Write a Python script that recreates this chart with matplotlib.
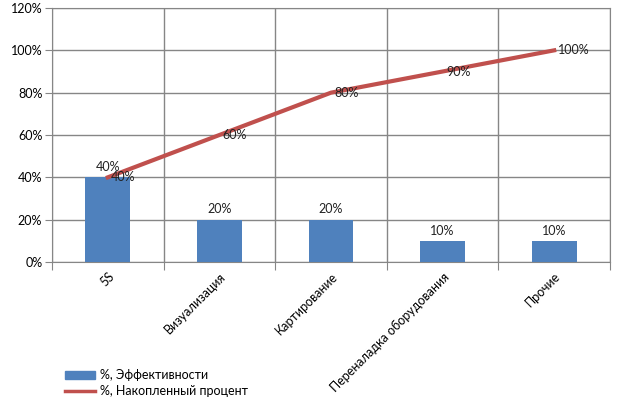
import matplotlib
matplotlib.use("Agg")
from matplotlib import pyplot as plt
from matplotlib.ticker import FuncFormatter, MultipleLocator
from matplotlib.patches import Patch
from matplotlib.lines import Line2D

categories = ["5S", "Визуализация", "Картирование", "Переналадка оборудования", "Прочие"]
efficiency = [40, 20, 20, 10, 10]
cumulative = [40, 60, 80, 90, 100]

plt.rcParams['font.family'] = ['Lato', 'DejaVu Sans']
grid_c = '#868686'
bar_c = '#4F81BD'
line_c = '#C0504D'
fs = 9


def main():
    fig = plt.figure(figsize=(6.21, 4.05), dpi=100)
    ax = fig.add_axes([52 / 621, 1 - 262 / 405, 558 / 621, 254 / 405])

    x = list(range(len(categories)))
    ax.bar(x, efficiency, width=0.4, color=bar_c, zorder=3)
    ax.plot(x, cumulative, color=line_c, linewidth=3, zorder=4)

    for i, v in enumerate(efficiency):
        ax.text(i, v + 2, "%d%%" % v, ha='center', va='bottom', fontsize=fs, color='#222222', zorder=5)
    for i, v in enumerate(cumulative):
        ax.text(i + 0.03, v, "%d%%" % v, ha='left', va='center', fontsize=fs, color='#222222', zorder=5)

    ax.set_xlim(-0.5, len(categories) - 0.5)
    ax.set_ylim(0, 120)
    ax.yaxis.set_major_locator(MultipleLocator(20))
    ax.yaxis.set_major_formatter(FuncFormatter(lambda v, p: "%d%%" % v))

    # category boundary grid lines
    ax.set_xticks([i - 0.5 for i in range(len(categories) + 1)])
    ax.set_xticklabels([])
    ax.set_xticks(x, minor=True)
    ax.set_xticklabels(categories, minor=True, rotation=45, ha='right',
                       rotation_mode='anchor', fontsize=fs)
    ax.tick_params(axis='x', which='minor', length=0, pad=6)
    ax.tick_params(axis='x', which='major', length=6, color=grid_c)
    ax.tick_params(axis='y', length=5, color=grid_c, labelsize=fs, pad=2)
    ax.grid(True, which='major', color=grid_c, linewidth=1, zorder=0)
    for s in ax.spines.values():
        s.set_color(grid_c)
        s.set_zorder(1)

    handles = [Patch(color=bar_c), Line2D([], [], color=line_c, linewidth=2.5)]
    fig.legend(handles, ["%, Эффективности", "%, Накопленный процент"],
               loc='upper left', bbox_to_anchor=(54 / 621, 1 - 358 / 405),
               frameon=False, fontsize=fs, handlelength=2.4, handleheight=0.55,
               handletextpad=0.4, labelspacing=0.3)

    fig.savefig('out.png', dpi=100)


if __name__ == '__main__':
    main()
